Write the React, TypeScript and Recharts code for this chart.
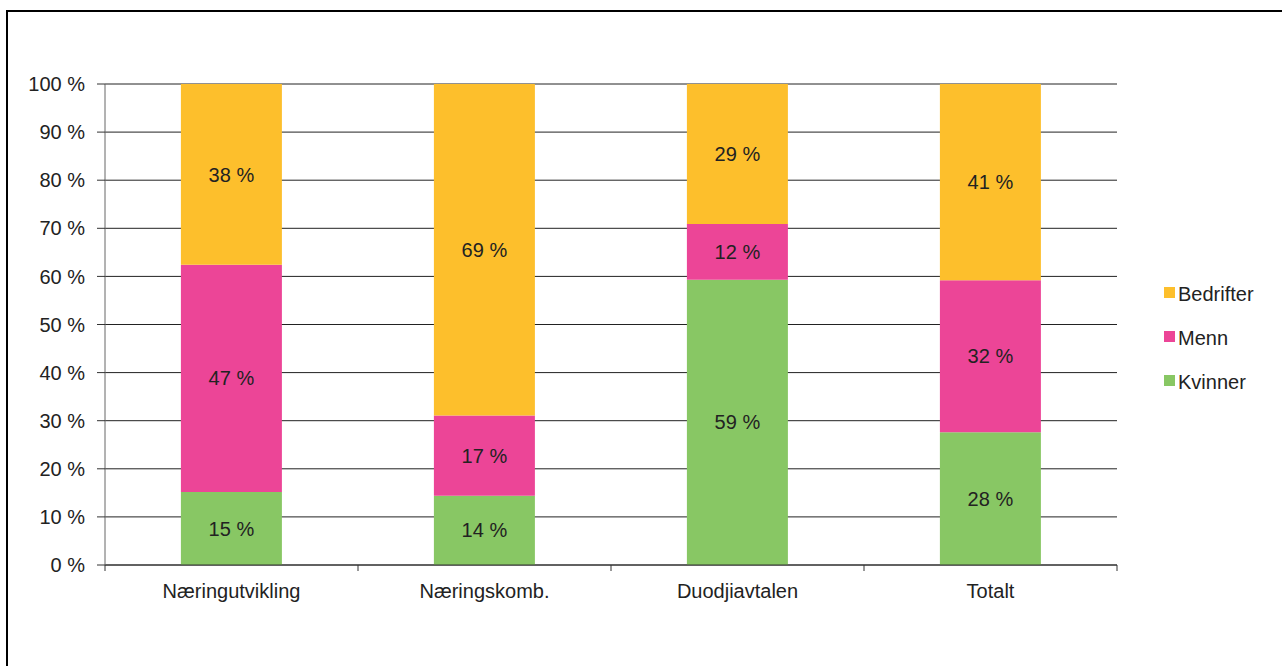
import React from "react";
import { BarChart, Bar, XAxis, YAxis, CartesianGrid, LabelList } from "recharts";

const categories = ["Næringutvikling", "Næringskomb.", "Duodjiavtalen", "Totalt"];
const kvinner = [15.2, 14.4, 59.3, 27.6];
const menn = [47.2, 16.7, 11.6, 31.6];
const bedrifter = [37.6, 68.9, 29.1, 40.8];
const yTicks = [0, 10, 20, 30, 40, 50, 60, 70, 80, 90, 100];

const seriesNames = ["Kvinner", "Menn", "Bedrifter"];
const seriesKeys = ["kvinner", "menn", "bedrifter"];
const seriesColors = ["#88C764", "#EC4597", "#FDBF2C"];

const data = categories.map((c, i) => ({
  name: c,
  kvinner: kvinner[i],
  menn: menn[i],
  bedrifter: bedrifter[i],
}));

const FONT = "'Liberation Sans', Arial, sans-serif";
const TEXT = "#222";
const FS = 20;

const fmt = (v: any) => `${Math.round(Number(v))} %`;

const XTick = (props: any) => {
  const { x, y, payload, index } = props;
  const off = payload.offset || 0;
  const axisY = y - 8;
  return (
    <g>
      <line x1={x - off} x2={x - off} y1={axisY} y2={axisY + 6} stroke="#333" />
      {index === categories.length - 1 && (
        <line x1={x + off} x2={x + off} y1={axisY} y2={axisY + 6} stroke="#333" />
      )}
      <text x={x} y={y + 20} textAnchor="middle" dominantBaseline="middle" fill={TEXT} fontSize={FS} fontFamily={FONT}>
        {payload.value}
      </text>
    </g>
  );
};

export default function App() {
  return (
    <div style={{ position: "absolute", left: 0, top: 0, width: 1282, height: 666, background: "#fff", overflow: "hidden", fontFamily: FONT }}>
      <div style={{ position: "absolute", left: 6, top: 10, width: 1300, height: 700, borderTop: "2px solid #000", borderLeft: "2px solid #000" }} />
      <div style={{ position: "absolute", left: 0, top: 0 }}>
        <BarChart
          width={1282}
          height={666}
          data={data}
          margin={{ top: 84, right: 165, bottom: 71, left: 15 }}
          barCategoryGap="30%"
        >
          <CartesianGrid vertical={false} stroke="#222" strokeWidth={1} />
          <XAxis
            dataKey="name"
            tickLine={false}
            axisLine={{ stroke: "#333" }}
            tick={<XTick />}
            interval={0}
            height={30}
          />
          <YAxis
            domain={[0, 100]}
            ticks={yTicks}
            interval={0}
            width={90}
            tickFormatter={(v) => `${v} %`}
            tick={{ fill: TEXT, fontSize: FS, fontFamily: FONT }}
            axisLine={{ stroke: "#666" }}
            tickLine={{ stroke: "#333" }}
            tickSize={8}
            tickMargin={12}
          />
          {seriesKeys.map((k, i) => (
            <Bar key={k} dataKey={k} name={seriesNames[i]} stackId="a" fill={seriesColors[i]} isAnimationActive={false}>
              <LabelList
                dataKey={k}
                position="center"
                formatter={fmt}
                style={{ fill: TEXT, fontSize: FS, fontFamily: FONT }}
              />
            </Bar>
          ))}
        </BarChart>
      </div>
      <div style={{ position: "absolute", left: 1164, top: 272, fontSize: FS, color: TEXT, fontFamily: FONT }}>
        {[2, 1, 0].map((i) => (
          <div key={i} style={{ display: "flex", alignItems: "center", height: 44 }}>
            <span style={{ display: "inline-block", width: 11, height: 11, background: seriesColors[i], marginRight: 3, marginTop: -4 }} />
            <span>{seriesNames[i]}</span>
          </div>
        ))}
      </div>
    </div>
  );
}
